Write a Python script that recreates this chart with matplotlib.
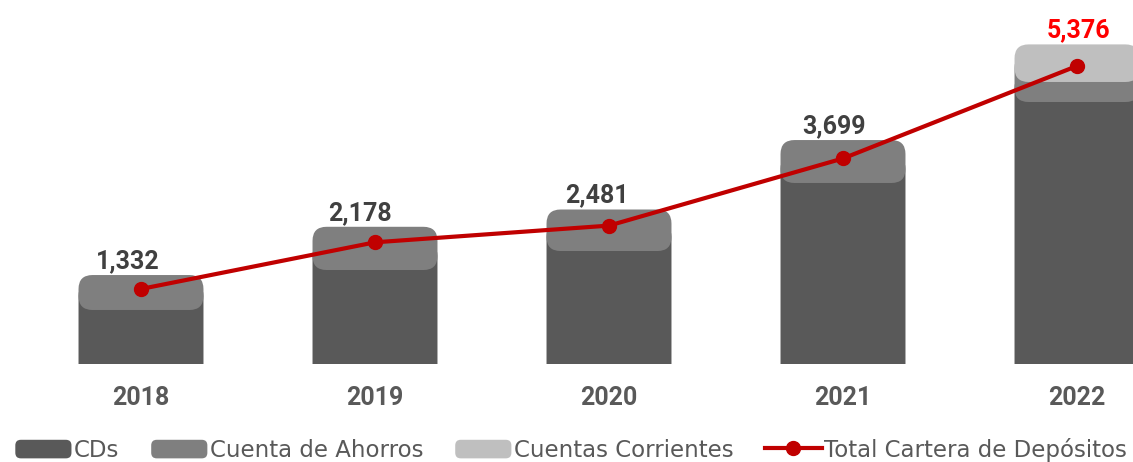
import matplotlib.pyplot as plt
from matplotlib.patches import FancyBboxPatch, Patch
from matplotlib.lines import Line2D
from matplotlib.legend_handler import HandlerPatch

years = ['2018', '2019', '2020', '2021', '2022']
cds = [719, 1420, 1753, 2946, 4366]
ahorros = [613, 758, 728, 753, 351]
corrientes = [0, 0, 0, 0, 659]
total = [1332, 2178, 2481, 3699, 5376]

c_cds = '#595959'
c_aho = '#7f7f7f'
c_cor = '#bfbfbf'
c_line = '#c00000'

plt.rcParams['font.family'] = ['Roboto', 'DejaVu Sans']


class RoundHandler(HandlerPatch):
    def create_artists(self, legend, orig_handle, xdescent, ydescent,
                       width, height, fontsize, trans):
        p = FancyBboxPatch((-xdescent, -ydescent), width, height,
                           boxstyle='round,pad=0,rounding_size=4',
                           fc=orig_handle.get_facecolor(), ec='none',
                           transform=trans)
        return [p]


W, H = 1133, 462
fig = plt.figure(figsize=(W / 100, H / 100), dpi=100)
ax_l, ax_b, ax_w, ax_h = 24, 98, 1170, 359
ax = fig.add_axes([ax_l / W, ax_b / H, ax_w / W, ax_h / H])
ylo, yhi = -228, 6067
ax.set_xlim(-0.5, 4.5)
ax.set_ylim(ylo, yhi)

# pixel scale for rounded corners
xpx = ax_w / 5.0
ypx = ax_h / (yhi - ylo)
radius = 14
r = radius / xpx
asp = (radius / ypx) / r
bw = 0.534
overlap = 2 * radius / ypx


def seg(x, y0, y1, color):
    p = FancyBboxPatch((x - bw / 2, y0), bw, y1 - y0,
                       boxstyle=f'round,pad=0,rounding_size={r}',
                       mutation_aspect=asp, fc=color, ec='none')
    ax.add_patch(p)


for i in range(len(years)):
    top_cd = cds[i] + (overlap if ahorros[i] + corrientes[i] > 0 else 0)
    seg(i, ylo - 1000, top_cd, c_cds)
    if ahorros[i] > 0:
        top_ah = cds[i] + ahorros[i] + (overlap if corrientes[i] > 0 else 0)
        seg(i, cds[i], top_ah, c_aho)
    if corrientes[i] > 0:
        seg(i, cds[i] + ahorros[i], cds[i] + ahorros[i] + corrientes[i], c_cor)

ax.set_xticks(range(len(years)), years)
ax.tick_params(axis='x', length=0, pad=16, labelsize=18, labelcolor='#595959')
for lab in ax.get_xticklabels():
    lab.set_fontweight('bold')
ax.set_yticks([])
for s in ax.spines.values():
    s.set_visible(False)

ax2 = ax.twinx()
ax2.set_ylim(-29, 6482)
ax2.plot(range(len(years)), total, color=c_line, lw=3, marker='o', ms=10)
ax2.axis('off')

dx = [-13, -15, -12, -9, 1]
for i, v in enumerate(total):
    col = '#ff0000' if i == len(total) - 1 else '#404040'
    ax2.annotate(f'{v:,}', xy=(i, v), xycoords=ax.transData,
                 xytext=(dx[i] * 0.72, 10), textcoords='offset points',
                 ha='center', va='center', fontsize=18, fontweight='bold',
                 color=col)

handles = [Patch(fc=c_cds, label='CDs'),
           Patch(fc=c_aho, label='Cuenta de Ahorros'),
           Patch(fc=c_cor, label='Cuentas Corrientes'),
           Line2D([], [], color=c_line, lw=3, marker='o', ms=10,
                  label='Total Cartera de Depósitos')]
fig.legend(handles=handles, loc='center', bbox_to_anchor=(571 / W, 12 / H),
           ncol=4, frameon=False, prop={'family': 'DejaVu Sans', 'size': 16.5},
           handlelength=2.45, handleheight=0.87, handletextpad=0.1,
           columnspacing=1.4, labelcolor='#595959', borderpad=0,
           handler_map={Patch: RoundHandler()})

fig.savefig('out.png', dpi=100)
